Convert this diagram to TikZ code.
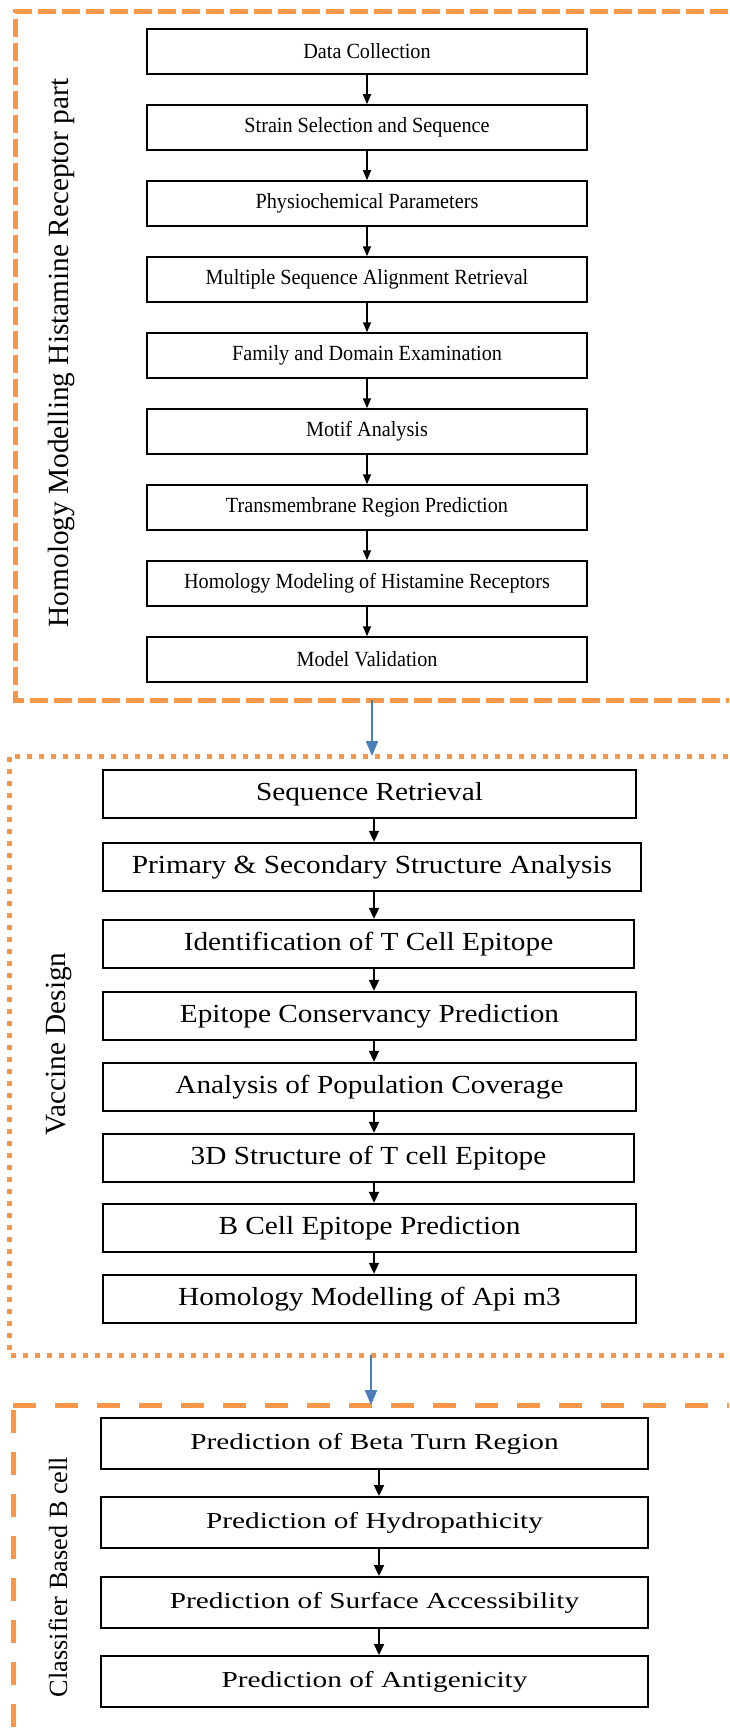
\documentclass[tikz,border=0pt]{standalone}
\usepackage{fontspec}
\usepackage{graphicx}
\setmainfont{Liberation Serif}
\usetikzlibrary{arrows.meta}
\definecolor{orng}{HTML}{F79646}
\definecolor{blu}{HTML}{4A7EBB}
\newcommand{\sclA}[1]{\scalebox{1}[1.07]{#1}}
\newcommand{\sclB}[1]{\scalebox{1}[0.89]{#1}}
\newcommand{\sclC}[1]{\scalebox{1}[0.78]{#1}}
\tikzset{
  boxA/.style={draw=black, line width=1.5pt, minimum width=440pt, minimum height=45pt, inner sep=0pt,
    font=\fontsize{20.2}{24}\selectfont},
  boxB/.style={draw=black, line width=2.5pt, minimum width=533pt, minimum height=48pt, inner sep=0pt,
    font=\fontsize{29.3}{34}\selectfont},
  boxC/.style={draw=black, line width=2pt, minimum width=547pt, minimum height=51pt, inner sep=0pt,
    font=\fontsize{29.3}{34}\selectfont},
  arrA/.style={line width=1.5pt, -{Triangle[length=10pt,width=8pt]}},
  arrB/.style={line width=2.2pt, -{Triangle[length=11pt,width=10pt]}},
  arrBlue/.style={draw=blu, line width=2pt, -{Triangle[length=15pt,width=12pt]}},
  frameA/.style={draw=orng, line width=5pt, dash pattern=on 18pt off 6pt},
  frameB/.style={draw=orng, line width=5pt, dash pattern=on 5pt off 7pt},
  frameC/.style={draw=orng, line width=5pt, dash pattern=on 23pt off 19pt},
  ttl/.style={rotate=90, anchor=base, inner sep=0pt, font=\fontsize{29.3}{34}\selectfont},
}
\begin{document}
\begin{tikzpicture}[x=1pt,y=-1pt]
\useasboundingbox (0,0) rectangle (729,1731);
\clip (0,0) rectangle (729,1731);
\fill[white] (0,0) rectangle (729,1731);

% frames
\draw[frameA] (800,12) -- (15,12) -- (15,700) -- (800,700);
\draw[frameB] (800,756) -- (9,756) -- (9,1355) -- (800,1355);
\draw[frameC] (13,1405) -- (800,1405);
\draw[frameC, dash phase=-5pt] (13,1405) -- (13,1800);

% titles
\node[ttl] (t1) at (68,353) {Homology Modelling Histamine Receptor part};
\node[ttl] (t2) at (65,1044) {Vaccine Design};
\node[ttl, font=\fontsize{26.3}{31}\selectfont] (t3) at (67,1577) {Classifier Based B cell};

% section 1
\node[boxA] (a1) at (367,51.5) {\sclA{Data Collection}};
\node[boxA] (a2) at (367,127.5) {\sclA{Strain Selection and Sequence}};
\node[boxA] (a3) at (367,203.5) {\sclA{Physiochemical Parameters}};
\node[boxA] (a4) at (367,279.5) {\sclA{Multiple Sequence Alignment Retrieval}};
\node[boxA] (a5) at (367,355.5) {\sclA{Family and Domain Examination}};
\node[boxA] (a6) at (367,431.5) {\sclA{Motif Analysis}};
\node[boxA] (a7) at (367,507.5) {\sclA{Transmembrane Region Prediction}};
\node[boxA] (a8) at (367,583.5) {\sclA{Homology Modeling of Histamine Receptors}};
\node[boxA] (a9) at (367,659.5) {\sclA{Model Validation}};
\foreach \i/\j in {a1/a2,a2/a3,a3/a4,a4/a5,a5/a6,a6/a7,a7/a8,a8/a9}
  \draw[arrA] (\i.south) -- (\j.north);

% section 2
\node[boxB] (b1) at (369.5,794) {\sclB{Sequence Retrieval}};
\node[boxB, minimum width=538pt] (b2) at (372,867) {\sclB{Primary \& Secondary Structure Analysis}};
\node[boxB, minimum width=531pt] (b3) at (368.5,944) {\sclB{Identification of T Cell Epitope}};
\node[boxB] (b4) at (369.5,1016) {\sclB{Epitope Conservancy Prediction}};
\node[boxB] (b5) at (369.5,1087) {\sclB{Analysis of Population Coverage}};
\node[boxB, minimum width=531pt] (b6) at (368.5,1158) {\sclB{3D Structure of T cell Epitope}};
\node[boxB] (b7) at (369.5,1228) {\sclB{B Cell Epitope Prediction}};
\node[boxB] (b8) at (369.5,1299) {\sclB{Homology Modelling of Api m3}};
\coordinate (ax2) at (374,0);
\foreach \i/\j in {b1/b2,b2/b3,b3/b4,b4/b5,b5/b6,b6/b7,b7/b8}
  \draw[arrB] (\i.south -| ax2) -- (\j.north -| ax2);

% section 3
\node[boxC] (c1) at (374.5,1443.5) {\sclC{Prediction of Beta Turn Region}};
\node[boxC] (c2) at (374.5,1522.5) {\sclC{Prediction of Hydropathicity}};
\node[boxC] (c3) at (374.5,1602.5) {\sclC{Prediction of Surface Accessibility}};
\node[boxC] (c4) at (374.5,1681.5) {\sclC{Prediction of Antigenicity}};
\coordinate (ax3) at (379,0);
\foreach \i/\j in {c1/c2,c2/c3,c3/c4}
  \draw[arrB] (\i.south -| ax3) -- (\j.north -| ax3);

% connectors between sections
\coordinate (f1b) at (372,700);
\coordinate (f2t) at (372,756);
\coordinate (f2b) at (371,1355);
\coordinate (f3t) at (371,1405);
\draw[arrBlue] (f1b) -- (f2t);
\draw[arrBlue] (f2b) -- (f3t);
\end{tikzpicture}
\end{document}
